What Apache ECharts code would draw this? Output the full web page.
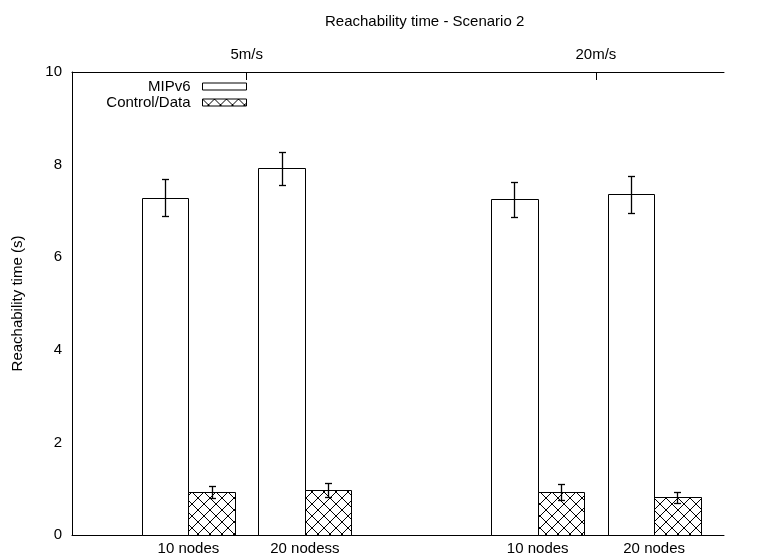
<!DOCTYPE html>
<html>
<head>
<meta charset="utf-8">
<script src="https://cdn.jsdelivr.net/npm/echarts@6/dist/echarts.min.js"></script>
<style>html,body{margin:0;padding:0;background:#fff}#c{width:764px;height:558px}</style>
</head>
<body>
<div id="c"></div>
<script>
// ---- data ----
const groupLabels = ['10 nodes', '20 nodess', '10 nodes', '20 nodes'];
const groupPos = [1, 2, 4, 5];
const speedLabels = ['5m/s', '20m/s'];
const speedPos = [1.5, 4.5];
const mipv6 = [7.28, 7.92, 7.25, 7.36];
const mipv6Err = [0.40, 0.36, 0.38, 0.40];
const ctrl = [0.92, 0.97, 0.93, 0.81];
const ctrlErr = [0.13, 0.15, 0.17, 0.12];
const yTicks = [0, 2, 4, 6, 8, 10];

// ---- styling ----
const FONT = 'Liberation Sans, Arial, Helvetica, sans-serif';
const BAR_HALF = 0.2;

function makeHatch() {
  const s = 12;
  const cv = document.createElement('canvas');
  cv.width = s; cv.height = s;
  const ctx = cv.getContext('2d');
  ctx.fillStyle = '#fff';
  ctx.fillRect(0, 0, s, s);
  ctx.strokeStyle = '#000';
  ctx.lineWidth = 1;
  ctx.beginPath();
  ctx.moveTo(0, 0); ctx.lineTo(s, s);
  ctx.moveTo(s, 0); ctx.lineTo(0, s);
  ctx.stroke();
  return cv;
}
const hatch = { image: makeHatch(), repeat: 'repeat' };

function makeRender(fill) {
  return function (params, api) {
    const x = api.value(0), y = api.value(1), e = api.value(2);
    const pTL = api.coord([x - BAR_HALF, y]);
    const pBR = api.coord([x + BAR_HALF, 0]);
    const x0 = Math.round(pTL[0]) + 0.5, x1 = Math.round(pBR[0]) + 0.5;
    const y0 = Math.round(pTL[1]) + 0.5, y1 = Math.round(pBR[1]) + 0.5;
    const c = api.coord([x, y]);
    const t = api.coord([x, y + e]);
    const b = api.coord([x, y - e]);
    const cx = Math.round(c[0]) + 0.5;
    const ty = Math.round(t[1]) + 0.5, by = Math.round(b[1]) + 0.5;
    const cap = 3.5;
    return {
      type: 'group',
      children: [
        { type: 'rect', shape: { x: x0, y: y0, width: x1 - x0, height: y1 - y0 },
          style: { fill: fill, stroke: '#000', lineWidth: 1 } },
        { type: 'line', shape: { x1: cx, y1: ty, x2: cx, y2: by }, style: { stroke: '#000', lineWidth: 1.3 } },
        { type: 'line', shape: { x1: cx - cap, y1: ty, x2: cx + cap, y2: ty }, style: { stroke: '#000', lineWidth: 1.3 } },
        { type: 'line', shape: { x1: cx - cap, y1: by, x2: cx + cap, y2: by }, style: { stroke: '#000', lineWidth: 1.3 } }
      ]
    };
  };
}

const mipData = groupPos.map((g, i) => [g - BAR_HALF, mipv6[i], mipv6Err[i]]);
const ctrlData = groupPos.map((g, i) => [g + BAR_HALF, ctrl[i], ctrlErr[i]]);

const chart = echarts.init(document.getElementById('c'), null, { renderer: 'canvas' });
chart.setOption({
  animation: false,
  backgroundColor: '#fff',
  textStyle: { fontFamily: FONT, color: '#000' },
  title: {
    text: 'Reachability time - Scenario 2',
    left: 320, top: 9,
    textStyle: { fontFamily: FONT, fontSize: 15, fontWeight: 'normal', color: '#000' }
  },
  grid: { left: 72, right: 40, top: 72, bottom: 23, containLabel: false },
  legend: {
    orient: 'vertical',
    align: 'right',
    right: 512,
    top: 74,
    itemWidth: 44,
    itemHeight: 7,
    itemGap: 1,
    selectedMode: false,
    textStyle: { fontFamily: FONT, fontSize: 15, color: '#000', lineHeight: 15, padding: [0, 7, 0, 0] },
    data: [
      { name: 'MIPv6', icon: 'rect', itemStyle: { color: '#fff', borderColor: '#000', borderWidth: 1 } },
      { name: 'Control/Data', icon: 'rect', itemStyle: { color: hatch, borderColor: '#000', borderWidth: 1 } }
    ]
  },
  xAxis: [
    {
      type: 'value', position: 'bottom', min: 0, max: 5.6,
      axisLine: { show: true, onZero: false, lineStyle: { color: '#000', width: 1 } },
      axisTick: { show: false },
      splitLine: { show: false },
      axisLabel: {
        customValues: groupPos,
        margin: 6,
        fontFamily: FONT, fontSize: 15, color: '#000',
        formatter: function (v) { const i = groupPos.indexOf(v); return i >= 0 ? groupLabels[i] : ''; }
      }
    },
    {
      type: 'value', position: 'top', min: 0, max: 5.6,
      axisLine: { show: true, onZero: false, lineStyle: { color: '#000', width: 1 } },
      axisTick: { show: true, inside: true, length: 8, customValues: speedPos, lineStyle: { color: '#000' } },
      splitLine: { show: false },
      axisLabel: {
        customValues: speedPos,
        margin: 10,
        fontFamily: FONT, fontSize: 15, color: '#000',
        formatter: function (v) { const i = speedPos.indexOf(v); return i >= 0 ? speedLabels[i] : ''; }
      }
    }
  ],
  yAxis: {
    type: 'value', min: yTicks[0], max: yTicks[yTicks.length - 1], interval: 2,
    name: 'Reachability time (s)',
    nameLocation: 'middle',
    nameGap: 47,
    nameTextStyle: { fontFamily: FONT, fontSize: 15, color: '#000' },
    axisLine: { show: true, onZero: false, lineStyle: { color: '#000', width: 1 } },
    axisTick: { show: false },
    splitLine: { show: false },
    axisLabel: { margin: 10, fontFamily: FONT, fontSize: 15, color: '#000' }
  },
  series: [
    { name: 'MIPv6', type: 'custom', xAxisIndex: 0, renderItem: makeRender('#fff'), data: mipData,
      itemStyle: { color: '#fff', borderColor: '#000' }, encode: { x: 0, y: 1 }, z: 2 },
    { name: 'Control/Data', type: 'custom', xAxisIndex: 0, renderItem: makeRender(hatch), data: ctrlData,
      itemStyle: { color: hatch, borderColor: '#000' }, encode: { x: 0, y: 1 }, z: 2 }
  ]
});
</script>
</body>
</html>
